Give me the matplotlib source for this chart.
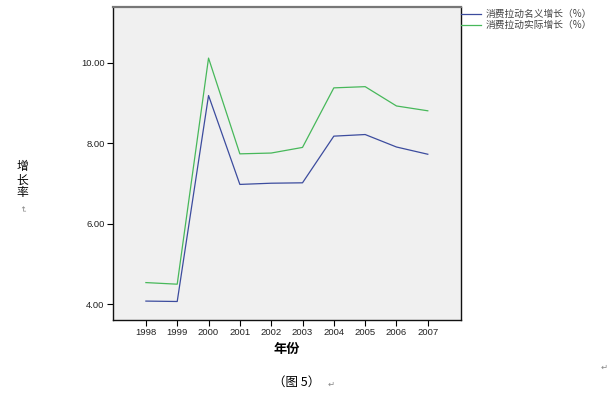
import matplotlib.pyplot as plt

plt.rcParams["font.family"] = ["Noto Sans CJK SC", "DejaVu Sans"]

# datos
anios = [1998, 1999, 2000, 2001, 2002, 2003, 2004, 2005, 2006, 2007]
nominal = [4.08, 4.07, 9.19, 6.98, 7.01, 7.02, 8.18, 8.22, 7.91, 7.73]
real = [4.54, 4.50, 10.12, 7.74, 7.76, 7.90, 9.38, 9.41, 8.93, 8.81]
etiquetas = ["消费拉动名义增长（%）", "消费拉动实际增长（%）"]
yticks = [4.0, 6.0, 8.0, 10.0]

COL_AZUL = "#3c4c9e"
COL_VERDE = "#47b85a"

fig = plt.figure(figsize=(6.14, 3.98), dpi=100)
ax = fig.add_axes([113 / 614, 1 - 320 / 398, 348 / 614, 313 / 398])
ax.set_facecolor("#f0f0f0")

ax.plot(anios, nominal, color=COL_AZUL, lw=0.9, label=etiquetas[0])
ax.plot(anios, real, color=COL_VERDE, lw=0.9, label=etiquetas[1])

ax.set_xlim(1996.95, 2008.06)
ax.set_ylim(3.61, 11.39)
ax.set_xticks(anios)
ax.set_xticklabels([str(a) for a in anios])
ax.set_yticks(yticks)
ax.set_yticklabels([f"{v:.2f}" for v in yticks])
ax.tick_params(direction="out", length=4, width=0.8, labelsize=6.8,
               labelcolor="#222222", pad=2)
for t in ax.get_xticklabels() + ax.get_yticklabels():
    t.set_family(["Liberation Sans", "DejaVu Sans"])
for lado in ["left", "bottom", "right"]:
    ax.spines[lado].set_color("#111111")
    ax.spines[lado].set_linewidth(1.0)
ax.spines["top"].set_color("#777777")
ax.spines["top"].set_linewidth(1.6)

leg = ax.legend(loc="upper left", bbox_to_anchor=(1.0, 0.993), frameon=False,
                borderaxespad=0, borderpad=0, handlelength=2.1,
                handletextpad=0.4, labelspacing=0.1, fontsize=7.0)
for t in leg.get_texts():
    t.set_color("#444444")

# etiquetas de ejes y pie
fig.text(22 / 614, 1 - 180 / 398, "增\n长\n率", ha="center", va="center",
         fontsize=8.5, linespacing=1.0)
fig.text(22 / 614, 1 - 208 / 398, "↵", ha="center", va="center",
         fontsize=6, color="#888888", rotation=-90,
         family=["DejaVu Sans"])
fig.text(287 / 614, 1 - 349 / 398, "年份", ha="center", va="center",
         fontsize=9.5, fontweight="bold")
fig.text(297 / 614, 1 - 382 / 398, "（图 5）", ha="center", va="center",
         fontsize=9)
fig.text(331 / 614, 1 - 384 / 398, "↵", ha="center", va="center",
         fontsize=6, color="#888888", family=["DejaVu Sans"])
fig.text(604 / 614, 1 - 367 / 398, "↵", ha="center", va="center",
         fontsize=6, color="#888888", family=["DejaVu Sans"])

fig.savefig("out.png", dpi=100, facecolor="white")
